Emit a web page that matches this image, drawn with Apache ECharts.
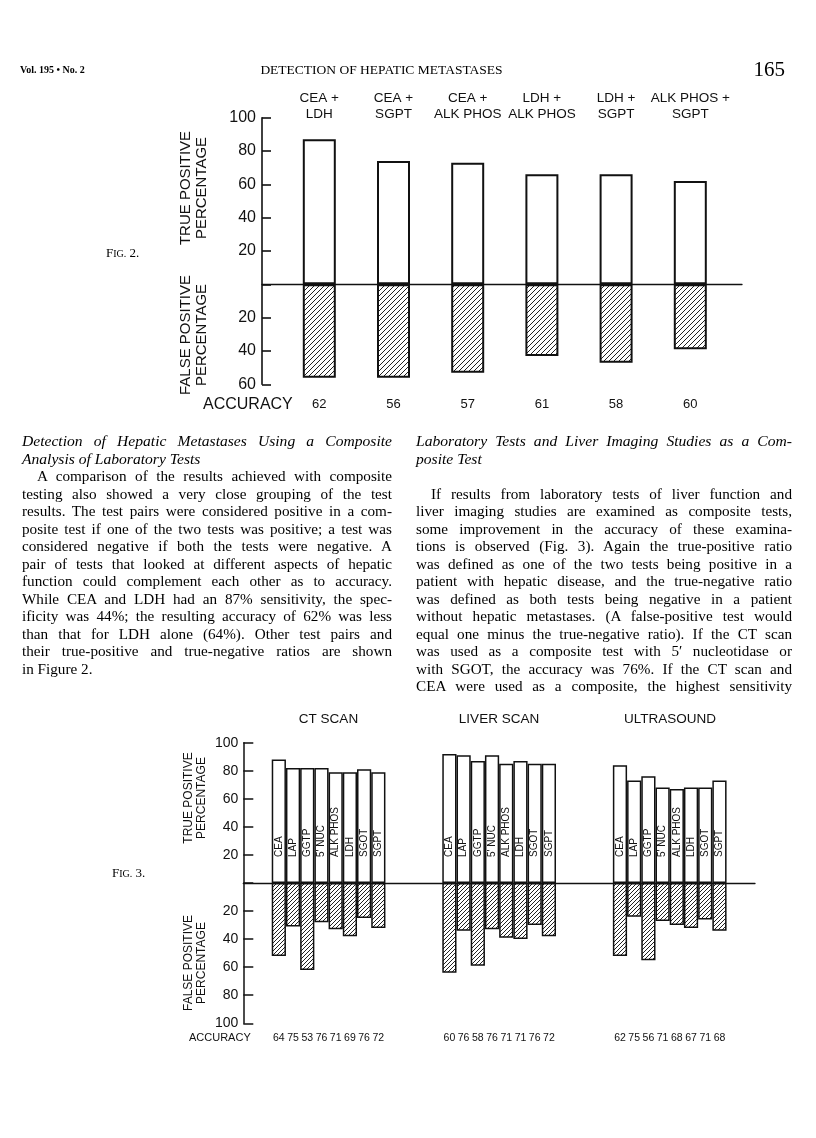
<!DOCTYPE html>
<html><head><meta charset="utf-8">
<script src="https://cdn.jsdelivr.net/npm/echarts@6/dist/echarts.min.js"></script>
<style>
html,body{margin:0;padding:0;background:#fff;}
#page{position:relative;width:816px;height:1138px;overflow:hidden;background:#fff;}
#chart{position:absolute;left:0;top:0;width:816px;height:1138px;z-index:0;}
.txt{position:absolute;font-family:"Liberation Serif",serif;color:#000;z-index:2;white-space:nowrap;}
.col{position:absolute;font-family:"Liberation Serif",serif;color:#000;font-size:15.2px;line-height:17.5px;z-index:2;}
.col div{white-space:nowrap;text-align:justify;text-align-last:justify;height:17.5px;}
.col div.last{text-align-last:left;}
.col div.ind{text-indent:15px;}
.col div.it{font-style:italic;font-size:15.6px;}
</style></head>
<body>
<div id="page">
<div id="chart"></div>
<div class="txt" style="left:20px;top:63px;font-size:10px;font-weight:bold;line-height:14px;">Vol. 195 • No. 2</div>
<div class="txt" style="left:0;width:763px;text-align:center;top:61px;font-size:13.5px;line-height:18px;">DETECTION OF HEPATIC METASTASES</div>
<div class="txt" style="right:31px;top:57px;font-size:21px;line-height:25px;">165</div>
<div class="txt" style="left:106px;top:244px;font-size:13px;line-height:17px;">F<span style="font-size:10px">IG.</span> 2.</div>
<div class="txt" style="left:112px;top:864px;font-size:13px;line-height:17px;">F<span style="font-size:10px">IG.</span> 3.</div>

<div class="col" style="left:22px;top:432px;width:370px;">
<div class="it">Detection of Hepatic Metastases Using a Composite</div>
<div class="it last">Analysis of Laboratory Tests</div>
<div class="ind">A comparison of the results achieved with composite</div>
<div>testing also showed a very close grouping of the test</div>
<div>results. The test pairs were considered positive in a com-</div>
<div>posite test if one of the two tests was positive; a test was</div>
<div>considered negative if both the tests were negative. A</div>
<div>pair of tests that looked at different aspects of hepatic</div>
<div>function could complement each other as to accuracy.</div>
<div>While CEA and LDH had an 87% sensitivity, the spec-</div>
<div>ificity was 44%; the resulting accuracy of 62% was less</div>
<div>than that for LDH alone (64%). Other test pairs and</div>
<div>their true-positive and true-negative ratios are shown</div>
<div class="last">in Figure 2.</div>
</div>

<div class="col" style="left:416px;top:432px;width:376px;">
<div class="it">Laboratory Tests and Liver Imaging Studies as a Com-</div>
<div class="it last">posite Test</div>
<div class="last"></div>
<div class="ind">If results from laboratory tests of liver function and</div>
<div>liver imaging studies are examined as composite tests,</div>
<div>some improvement in the accuracy of these examina-</div>
<div>tions is observed (Fig. 3). Again the true-positive ratio</div>
<div>was defined as one of the two tests being positive in a</div>
<div>patient with hepatic disease, and the true-negative ratio</div>
<div>was defined as both tests being negative in a patient</div>
<div>without hepatic metastases. (A false-positive test would</div>
<div>equal one minus the true-negative ratio). If the CT scan</div>
<div>was used as a composite test with 5′ nucleotidase or</div>
<div>with SGOT, the accuracy was 76%. If the CT scan and</div>
<div>CEA were used as a composite, the highest sensitivity</div>
</div>
</div>

<script>
// ---------- Figure 2 data ----------
const fig2Pairs = ['CEA +\nLDH', 'CEA +\nSGPT', 'CEA +\nALK PHOS', 'LDH +\nALK PHOS', 'LDH +\nSGPT', 'ALK PHOS +\nSGPT'];
const fig2TruePos = [87, 74, 73, 66, 66, 62];
const fig2FalsePos = [56, 56, 53, 43, 47, 39];
const fig2Accuracy = [62, 56, 57, 61, 58, 60];
const fig2Ticks = [-60, -40, -20, 0, 20, 40, 60, 80, 100];

// ---------- Figure 3 data ----------
const fig3Groups = ['CT SCAN', 'LIVER SCAN', 'ULTRASOUND'];
const fig3Tests = ['CEA', 'LAP', 'GGTP', "5' NUC", 'ALK PHOS', 'LDH', 'SGOT', 'SGPT'];
const ctTruePos = [88, 82, 82, 82, 79, 79, 81, 79];
const ctFalsePos = [52, 31, 62, 28, 33, 38, 25, 32];
const ctAccuracy = [64, 75, 53, 76, 71, 69, 76, 72];
const liverTruePos = [92, 91, 87, 91, 85, 87, 85, 85];
const liverFalsePos = [64, 34, 59, 33, 39, 40, 30, 38];
const liverAccuracy = [60, 76, 58, 76, 71, 71, 76, 72];
const usTruePos = [84, 73, 76, 68, 67, 68, 68, 73];
const usFalsePos = [52, 24, 55, 27, 30, 32, 26, 34];
const usAccuracy = [62, 75, 56, 71, 68, 67, 71, 68];

const black = '#111';
const sans = '"Liberation Sans", Arial, sans-serif';

function hatch(size) {
  const c = document.createElement('canvas');
  c.width = size; c.height = size;
  const g = c.getContext('2d');
  g.fillStyle = '#fff'; g.fillRect(0, 0, size, size);
  g.strokeStyle = '#222'; g.lineWidth = 1;
  g.beginPath();
  g.moveTo(0, size); g.lineTo(size, 0);
  g.moveTo(-1, 1); g.lineTo(1, -1);
  g.moveTo(size - 1, size + 1); g.lineTo(size + 1, size - 1);
  g.stroke();
  return c;
}

// build figure-3 slots (padding / groups of 8 / gaps)
const tpGroups = [ctTruePos, liverTruePos, usTruePos];
const fpGroups = [ctFalsePos, liverFalsePos, usFalsePos];
const accGroups = [ctAccuracy, liverAccuracy, usAccuracy];
const slotKeys = [], slotTP = [], slotFP = [], slotAcc = [];
function pad(n) {
  for (let i = 0; i < n; i++) {
    slotKeys.push('gap' + slotKeys.length); slotTP.push(null); slotFP.push(null); slotAcc.push('');
  }
}
pad(2);
fig3Groups.forEach((g, gi) => {
  fig3Tests.forEach((t, ti) => {
    slotKeys.push(g + ' ' + t);
    slotTP.push({ value: tpGroups[gi][ti], name: t });
    slotFP.push({ value: -fpGroups[gi][ti], name: t });
    slotAcc.push(String(accGroups[gi][ti]));
  });
  pad(gi < 2 ? 4 : 2);
});

const absLabel = v => (v === 0 ? '' : String(Math.abs(v)));

function txt(x, y, text, size, opts) {
  opts = opts || {};
  return {
    type: 'text', x: x, y: y, rotation: opts.rot || 0, silent: true,
    style: {
      text: text, font: size + 'px ' + sans, fill: black,
      align: opts.align || 'center', textAlign: opts.align || 'center',
      verticalAlign: 'middle', textVerticalAlign: 'middle',
      lineHeight: opts.lh || size
    }
  };
}

const chart = echarts.init(document.getElementById('chart'), null, { renderer: 'canvas', width: 816, height: 1138 });
const hatchFill2 = { image: hatch(5), repeat: 'repeat' };
const hatchFill3 = { image: hatch(4), repeat: 'repeat' };

chart.setOption({
  animation: false,
  grid: [
    { left: 262, top: 117.7, width: 480, height: 266.6 },
    { left: 282.2, top: 117.7, width: 445.2, height: 266.6 },
    { left: 243.3, top: 742.7, width: 511.7, height: 280.6 }
  ],
  xAxis: [
    { gridIndex: 0, type: 'value', min: 0, max: 1,
      axisLine: { show: true, onZero: true, lineStyle: { color: black, width: 1.3 } },
      axisTick: { show: false }, axisLabel: { show: false }, splitLine: { show: false } },
    { gridIndex: 1, type: 'category', data: fig2Pairs, position: 'bottom',
      axisLine: { show: false, onZero: false }, axisTick: { show: false },
      axisLabel: { interval: 0, margin: 14, fontSize: 13, color: black, fontFamily: sans,
        formatter: (v, i) => String(fig2Accuracy[i]) } },
    { gridIndex: 1, type: 'category', data: fig2Pairs, position: 'top',
      axisLine: { show: false, onZero: false }, axisTick: { show: false },
      axisLabel: { interval: 0, margin: -4, fontSize: 13.5, lineHeight: 15.5, color: black, fontFamily: sans } },
    { gridIndex: 2, type: 'category', data: slotKeys, position: 'top',
      axisLine: { show: true, onZero: true, lineStyle: { color: black, width: 1.3 } },
      axisTick: { show: false }, axisLabel: { show: false } },
    { gridIndex: 2, type: 'category', data: slotKeys, position: 'bottom',
      axisLine: { show: false, onZero: false }, axisTick: { show: false },
      axisLabel: { interval: 0, margin: 9, fontSize: 10.5, color: black, fontFamily: sans,
        formatter: (v, i) => slotAcc[i] } }
  ],
  yAxis: [
    { gridIndex: 0, type: 'value', min: fig2Ticks[0], max: fig2Ticks[fig2Ticks.length - 1], interval: 20,
      axisLine: { show: true, onZero: false, lineStyle: { color: black, width: 1.6 } },
      axisTick: { show: true, inside: true, length: 9, lineStyle: { color: black, width: 1.6 } },
      axisLabel: { margin: 6, fontSize: 16, color: black, fontFamily: sans, formatter: absLabel },
      splitLine: { show: false } },
    { gridIndex: 1, type: 'value', min: fig2Ticks[0], max: fig2Ticks[fig2Ticks.length - 1], show: false,
      splitLine: { show: false } },
    { gridIndex: 2, type: 'value', min: -100, max: 100, interval: 20,
      axisLine: { show: true, onZero: false, lineStyle: { color: black, width: 1.5 } },
      axisTick: { show: true, inside: true, length: 10, lineStyle: { color: black, width: 1.5 } },
      axisLabel: { margin: 5, fontSize: 14, color: black, fontFamily: sans, formatter: absLabel },
      splitLine: { show: false } }
  ],
  series: [
    { type: 'bar', xAxisIndex: 1, yAxisIndex: 1, data: fig2TruePos, barWidth: 33, barGap: '-100%',
      itemStyle: { color: '#fff', borderColor: black, borderWidth: 2 }, emphasis: { disabled: true } },
    { type: 'bar', xAxisIndex: 1, yAxisIndex: 1, data: fig2FalsePos.map(v => -v), barWidth: 33, barGap: '-100%',
      itemStyle: { color: hatchFill2, borderColor: black, borderWidth: 2 }, emphasis: { disabled: true } },
    { type: 'bar', xAxisIndex: 3, yAxisIndex: 2, data: slotTP, barCategoryGap: '0%', barGap: '-100%',
      itemStyle: { color: '#fff', borderColor: black, borderWidth: 1.5 }, emphasis: { disabled: true },
      label: { show: true, position: 'insideBottom', distance: 26, rotate: 90, align: 'left', verticalAlign: 'middle',
        fontSize: 10, color: black, fontFamily: sans, formatter: p => p.name } },
    { type: 'bar', xAxisIndex: 3, yAxisIndex: 2, data: slotFP, barCategoryGap: '0%', barGap: '-100%',
      itemStyle: { color: hatchFill3, borderColor: black, borderWidth: 1.5 }, emphasis: { disabled: true } }
  ],
  graphic: [
    txt(194, 188, 'TRUE POSITIVE\nPERCENTAGE', 15, { rot: Math.PI / 2, lh: 16 }),
    txt(194, 335, 'FALSE POSITIVE\nPERCENTAGE', 15, { rot: Math.PI / 2, lh: 16 }),
    txt(203, 405, 'ACCURACY', 16, { align: 'left' }),
    txt(328.5, 719, fig3Groups[0], 13.5),
    txt(499, 719, fig3Groups[1], 13.5),
    txt(670, 719, fig3Groups[2], 13.5),
    txt(195, 798, 'TRUE POSITIVE\nPERCENTAGE', 12, { rot: Math.PI / 2, lh: 13 }),
    txt(195, 963, 'FALSE POSITIVE\nPERCENTAGE', 12, { rot: Math.PI / 2, lh: 13 }),
    txt(189, 1038, 'ACCURACY', 11, { align: 'left' })
  ]
});
</script>
</body></html>
